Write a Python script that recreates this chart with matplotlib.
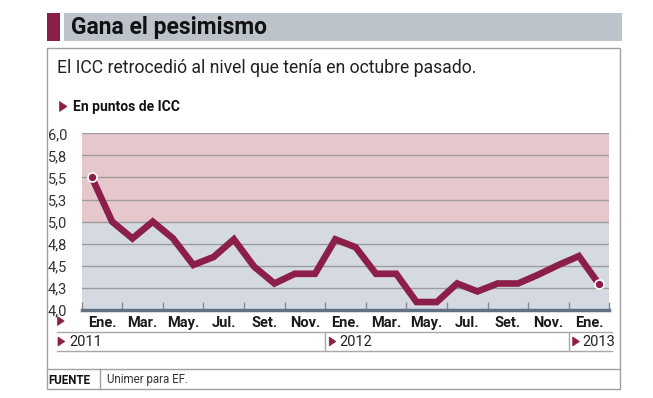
import matplotlib
matplotlib.use("Agg")
import matplotlib.pyplot as plt
from matplotlib.lines import Line2D
from matplotlib.patches import Rectangle, Polygon
import matplotlib.transforms as mtrans

# data: monthly ICC, Jan 2011 .. Feb 2013
icc = [5.5, 5.0, 4.81, 5.0, 4.81, 4.51, 4.6, 4.8, 4.49, 4.3, 4.41, 4.41,
       4.8, 4.71, 4.41, 4.41, 4.09, 4.09, 4.3, 4.21, 4.3, 4.3, 4.4, 4.51,
       4.61, 4.29]
month_labels = ["Ene.", "Mar.", "May.", "Jul.", "Set.", "Nov.",
                "Ene.", "Mar.", "May.", "Jul.", "Set.", "Nov.", "Ene."]
years = ["2011", "2012", "2013"]
year_starts = [0, 12, 24]
y_ticks = [4.0, 4.25, 4.5, 4.75, 5.0, 5.25, 5.5, 5.75, 6.0]
y_labels = ["4,0", "4,3", "4,5", "4,8", "5,0", "5,3", "5,5", "5,8", "6,0"]

W, H = 653, 398
crimson = "#8c1f4a"
plt.rcParams['font.family'] = ['Roboto', 'DejaVu Sans']

fig = plt.figure(figsize=(W / 100, H / 100), dpi=100)


def fx(x):
    return x / W


def fy(y):
    return 1 - y / H


def hline(x0, x1, y, **kw):
    fig.add_artist(Line2D([fx(x0), fx(x1)], [fy(y), fy(y)], transform=fig.transFigure, **kw))


def vline(x, y0, y1, **kw):
    fig.add_artist(Line2D([fx(x), fx(x)], [fy(y0), fy(y1)], transform=fig.transFigure, **kw))


def tri(x, y, s=9, color=crimson):
    # small right-pointing marker triangle, pixel coords
    pts = [(fx(x), fy(y - s / 2)), (fx(x), fy(y + s / 2)), (fx(x + s * 0.75), fy(y))]
    fig.add_artist(Polygon(pts, closed=True, transform=fig.transFigure, color=color, lw=0.5))


# header bar
fig.add_artist(Rectangle((fx(46.5), fy(40.7)), fx(13.5), 27.4 / H, transform=fig.transFigure,
                         color=crimson, lw=0))
fig.add_artist(Rectangle((fx(64), fy(40.7)), fx(621.7 - 64), 27.4 / H, transform=fig.transFigure,
                         color="#bcc3cb", lw=0))
fig.text(fx(71), fy(27.5), "Gana el pesimismo", fontsize=16.5, fontweight='bold',
         va='center', ha='left', color="#111111")

# frame
fig.add_artist(Rectangle((fx(47), fy(389.3)), fx(620 - 47), (389.3 - 47.7) / H,
                         transform=fig.transFigure, fill=False, ec="#a0a0a0", lw=1))

fig.text(fx(57), fy(68), "El ICC retrocedió al nivel que tenía en octubre pasado.",
         fontsize=12.7, va='center', ha='left', color="#222222")
tri(59.5, 106.5, 10)
fig.text(fx(73), fy(107), "En puntos de ICC", fontsize=10, fontweight='bold',
         va='center', ha='left', color="#111111")

# main plot
ax = fig.add_axes([fx(81.7), fy(310), fx(609.3 - 81.7), (310 - 133.3) / H])
ax.set_xlim(-0.5, 25.5)
ax.set_ylim(4.0, 6.0)
ax.axhspan(5.0, 6.0, color="#e6c8cc", lw=0, zorder=0)
ax.axhspan(4.0, 5.0, color="#d5dae2", lw=0, zorder=0)
for v in y_ticks[1:]:
    ax.axhline(v, color="#9b9b9b", lw=1, zorder=1)

x = list(range(len(icc)))
ax.plot(x, icc, color=crimson, lw=4.8, solid_joinstyle='miter', zorder=3)
ax.plot([x[0], x[-1]], [icc[0], icc[-1]], 'o', ms=6.5, mfc=crimson, mec='white',
        mew=1.2, zorder=4)

for s in ['top', 'right', 'left']:
    ax.spines[s].set_visible(False)
ax.spines['bottom'].set_color("#5f7183")
ax.spines['bottom'].set_linewidth(2.5)

ax.set_yticks(y_ticks)
ax.set_yticklabels(y_labels, fontsize=10.5, color="#333333")
ax.tick_params(axis='y', length=0, pad=5)
for lbl in ax.get_yticklabels():
    lbl.set_horizontalalignment('left')
    lbl.set_x(fx(55 - 81.7) / fx(609.3 - 81.7))

ax.set_xticks([i - 0.5 for i in range(0, 27, 2)])
ax.set_xticklabels([])
ax.tick_params(axis='x', which='major', direction='in', length=6, width=1, color="#8a8a8a")
ax.set_xticks([i + 0.5 for i in range(0, 25, 2)], minor=True)
ax.set_xticklabels(month_labels, minor=True, fontsize=10.5, fontweight='bold', color="#1a1a1a")
ax.tick_params(axis='x', which='minor', length=0, pad=4)

tri(57.5, 321, 9)

# year row
blend = mtrans.blended_transform_factory(ax.transData, fig.transFigure)
hline(56.7, 611.7, 331.7, color="#a8a8a8", lw=1)
hline(56.7, 611.7, 350.7, color="#a8a8a8", lw=1)
tri(58, 341.5, 9)
fig.text(fx(69), fy(341.5), years[0], fontsize=10.5, va='center', ha='left', color="#222222")
for xs, yr in zip(year_starts[1:], years[1:]):
    fig.add_artist(Line2D([xs - 0.5, xs - 0.5], [fy(331.7), fy(350.7)], transform=blend,
                          color="#a8a8a8", lw=1))
    xp = ax.transData.transform((xs - 0.5, 0))[0]
    tri(xp + 4, 341.5, 9)
    fig.text(fx(xp + 14), fy(341.5), yr, fontsize=10.5, va='center', ha='left', color="#222222")

# source row
hline(47, 620, 369.3, color="#a0a0a0", lw=1)
vline(100, 369.3, 389.3, color="#a0a0a0", lw=1)
fig.text(fx(48.5), fy(380), "FUENTE", fontsize=8.3, fontweight='bold', va='center', ha='left',
         color="#111111")
fig.text(fx(107), fy(380), "Unimer para EF.", fontsize=8.3, va='center', ha='left',
         color="#333333")

fig.savefig("out.png", dpi=100)
